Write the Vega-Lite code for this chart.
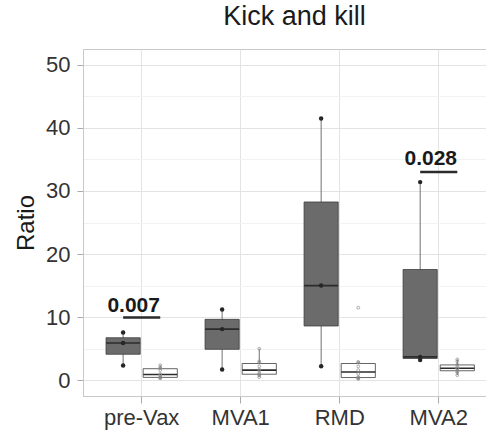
{
  "$schema": "https://vega.github.io/schema/vega-lite/v6.json",
  "autosize": {"type": "none"},
  "width": 403,
  "height": 347,
  "padding": {"left": 83, "top": 49, "right": 0, "bottom": 34},
  "background": "white",
  "title": {"text": "Kick and kill", "fontSize": 27, "font": "Liberation Sans", "fontWeight": "normal", "color": "#1a1a1a", "anchor": "middle", "dx": 10, "offset": -3, "baseline": "alphabetic"},
  "config": {"view": {"stroke": "#c8c8c8"}, "font": "Liberation Sans"},
  "datasets": {
    "obs": [
      {"cat": "pre-Vax", "grp": "A", "ratio": 2.33},
      {"cat": "pre-Vax", "grp": "A", "ratio": 5.9},
      {"cat": "pre-Vax", "grp": "A", "ratio": 7.57},
      {"cat": "MVA1", "grp": "A", "ratio": 1.7},
      {"cat": "MVA1", "grp": "A", "ratio": 8.1},
      {"cat": "MVA1", "grp": "A", "ratio": 11.2},
      {"cat": "RMD", "grp": "A", "ratio": 2.2},
      {"cat": "RMD", "grp": "A", "ratio": 15.0},
      {"cat": "RMD", "grp": "A", "ratio": 41.5},
      {"cat": "MVA2", "grp": "A", "ratio": 3.2},
      {"cat": "MVA2", "grp": "A", "ratio": 3.7},
      {"cat": "MVA2", "grp": "A", "ratio": 31.4},
      {"cat": "pre-Vax", "grp": "B", "ratio": 0.3},
      {"cat": "pre-Vax", "grp": "B", "ratio": 0.4},
      {"cat": "pre-Vax", "grp": "B", "ratio": 0.44},
      {"cat": "pre-Vax", "grp": "B", "ratio": 0.48},
      {"cat": "pre-Vax", "grp": "B", "ratio": 0.8},
      {"cat": "pre-Vax", "grp": "B", "ratio": 1.0},
      {"cat": "pre-Vax", "grp": "B", "ratio": 1.6},
      {"cat": "pre-Vax", "grp": "B", "ratio": 1.9},
      {"cat": "pre-Vax", "grp": "B", "ratio": 2.0},
      {"cat": "pre-Vax", "grp": "B", "ratio": 2.38},
      {"cat": "MVA1", "grp": "B", "ratio": 0.5},
      {"cat": "MVA1", "grp": "B", "ratio": 0.8},
      {"cat": "MVA1", "grp": "B", "ratio": 0.9},
      {"cat": "MVA1", "grp": "B", "ratio": 1.1},
      {"cat": "MVA1", "grp": "B", "ratio": 1.5},
      {"cat": "MVA1", "grp": "B", "ratio": 1.7},
      {"cat": "MVA1", "grp": "B", "ratio": 2.2},
      {"cat": "MVA1", "grp": "B", "ratio": 2.8},
      {"cat": "MVA1", "grp": "B", "ratio": 3.0},
      {"cat": "MVA1", "grp": "B", "ratio": 5.0},
      {"cat": "RMD", "grp": "B", "ratio": 0.2},
      {"cat": "RMD", "grp": "B", "ratio": 0.3},
      {"cat": "RMD", "grp": "B", "ratio": 0.4},
      {"cat": "RMD", "grp": "B", "ratio": 0.5},
      {"cat": "RMD", "grp": "B", "ratio": 1.0},
      {"cat": "RMD", "grp": "B", "ratio": 1.6},
      {"cat": "RMD", "grp": "B", "ratio": 2.2},
      {"cat": "RMD", "grp": "B", "ratio": 2.8},
      {"cat": "RMD", "grp": "B", "ratio": 2.9},
      {"cat": "RMD", "grp": "B", "ratio": 11.5},
      {"cat": "MVA2", "grp": "B", "ratio": 0.8},
      {"cat": "MVA2", "grp": "B", "ratio": 1.2},
      {"cat": "MVA2", "grp": "B", "ratio": 1.4},
      {"cat": "MVA2", "grp": "B", "ratio": 1.8},
      {"cat": "MVA2", "grp": "B", "ratio": 1.9},
      {"cat": "MVA2", "grp": "B", "ratio": 1.9},
      {"cat": "MVA2", "grp": "B", "ratio": 2.2},
      {"cat": "MVA2", "grp": "B", "ratio": 2.5},
      {"cat": "MVA2", "grp": "B", "ratio": 3.0},
      {"cat": "MVA2", "grp": "B", "ratio": 3.3}
    ],
    "sigline": [
      {"cat": "pre-Vax", "grp": "A", "ratio": 9.95},
      {"cat": "pre-Vax", "grp": "B", "ratio": 9.95},
      {"cat": "MVA2", "grp": "A", "ratio": 33.0},
      {"cat": "MVA2", "grp": "B", "ratio": 33.0}
    ],
    "sigtext": [
      {"cat": "pre-Vax", "ratio": 10.8, "label": "0.007"},
      {"cat": "MVA2", "ratio": 34.1, "label": "0.028"}
    ]
  },
  "encoding": {
    "x": {
      "field": "cat", "type": "nominal",
      "sort": ["pre-Vax", "MVA1", "RMD", "MVA2"],
      "scale": {"type": "band", "domain": ["pre-Vax", "MVA1", "RMD", "MVA2"], "paddingInner": 0.25, "paddingOuter": 0.16, "align": 0.68},
      "title": null,
      "axis": {"labelFontSize": 22, "labelColor": "#333333", "labelFont": "Liberation Sans", "labelAngle": 0, "tickColor": "#aaaaaa", "tickSize": 7, "labelPadding": 4, "domainColor": "#c8c8c8", "grid": true, "gridColor": "#e3e3e3", "bandPosition": 0.5}
    },
    "y": {
      "field": "ratio", "type": "quantitative",
      "scale": {"domain": [-2.5, 52.5], "nice": false, "zero": false},
      "title": "Ratio",
      "axis": {
        "values": [0, 5, 10, 15, 20, 25, 30, 35, 40, 45, 50],
        "labelExpr": "datum.value % 10 === 0 ? datum.label : ''",
        "gridColor": {"condition": {"test": "datum.value % 10 === 0", "value": "#e3e3e3"}, "value": "#f2f2f2"},
        "tickOpacity": {"condition": {"test": "datum.value % 10 === 0", "value": 1}, "value": 0},
        "tickColor": "#aaaaaa", "tickSize": 6, "labelPadding": 7,
        "labelFontSize": 22, "labelColor": "#333333", "labelFont": "Liberation Sans",
        "labelOverlap": false,
        "domainColor": "#c8c8c8",
        "titleFontSize": 24, "titleFontWeight": "normal", "titleColor": "#1a1a1a", "titleFont": "Liberation Sans", "titlePadding": 7
      }
    }
  },
  "layer": [
    {
      "data": {"name": "obs"},
      "transform": [
        {"joinaggregate": [{"op": "q1", "field": "ratio", "as": "lo"}, {"op": "q3", "field": "ratio", "as": "hi"}], "groupby": ["cat", "grp"]},
        {"filter": "datum.ratio <= datum.hi + 1.5 * (datum.hi - datum.lo) && datum.ratio >= datum.lo - 1.5 * (datum.hi - datum.lo)"}
      ],
      "mark": {"type": "rule", "color": "#707070", "strokeWidth": 1},
      "encoding": {
        "xOffset": {"field": "grp", "type": "nominal", "scale": {"domain": ["A", "B"], "paddingInner": 0.08, "paddingOuter": 0.04}},
        "y": {"aggregate": "min", "field": "ratio", "type": "quantitative"},
        "y2": {"aggregate": "max", "field": "ratio"}
      }
    },
    {
      "data": {"name": "obs"},
      "mark": {"type": "bar", "stroke": "#3d3d3d", "strokeWidth": 0.8},
      "encoding": {
        "xOffset": {"field": "grp", "type": "nominal"},
        "y": {"aggregate": "q1", "field": "ratio", "type": "quantitative"},
        "y2": {"aggregate": "q3", "field": "ratio"},
        "color": {"field": "grp", "type": "nominal", "scale": {"domain": ["A", "B"], "range": ["#6b6b6b", "#ffffff"]}, "legend": null}
      }
    },
    {
      "data": {"name": "obs"},
      "mark": {"type": "tick", "color": "#2b2b2b", "thickness": 1.6, "size": 34},
      "encoding": {
        "xOffset": {"field": "grp", "type": "nominal"},
        "y": {"aggregate": "median", "field": "ratio", "type": "quantitative"}
      }
    },
    {
      "data": {"name": "obs"},
      "transform": [{"filter": "datum.grp === 'A'"}],
      "mark": {"type": "point", "filled": true, "color": "#262626", "size": 20, "opacity": 1},
      "encoding": {
        "xOffset": {"field": "grp", "type": "nominal"}
      }
    },
    {
      "data": {"name": "obs"},
      "transform": [{"filter": "datum.grp === 'B'"}],
      "mark": {"type": "point", "filled": false, "color": "#8a8a8a", "size": 8, "strokeWidth": 0.7, "opacity": 1},
      "encoding": {
        "xOffset": {"field": "grp", "type": "nominal"}
      }
    },
    {
      "data": {"name": "sigline"},
      "mark": {"type": "line", "color": "#2b2b2b", "strokeWidth": 2.5},
      "encoding": {
        "xOffset": {"field": "grp", "type": "nominal"},
        "detail": {"field": "cat"}
      }
    },
    {
      "data": {"name": "sigtext"},
      "mark": {"type": "text", "fontSize": 21, "fontWeight": "bold", "font": "Liberation Sans", "color": "#1a1a1a", "dx": -8, "baseline": "alphabetic"},
      "encoding": {
        "text": {"field": "label"}
      }
    }
  ]
}
